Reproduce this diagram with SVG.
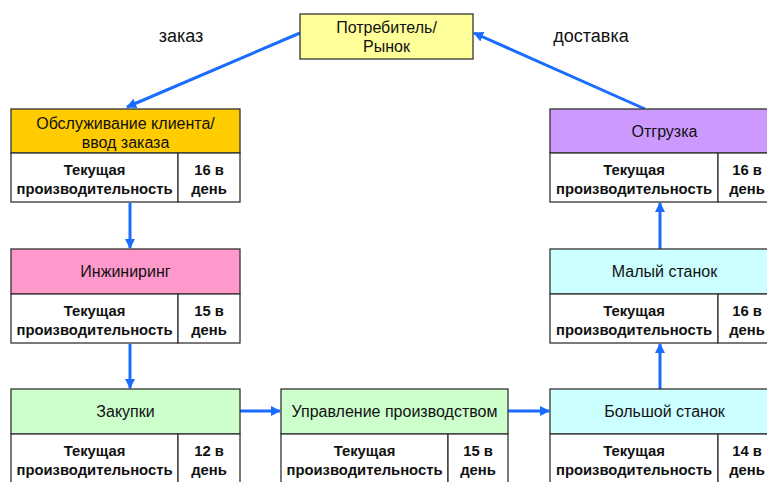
<svg xmlns="http://www.w3.org/2000/svg" width="767" height="482" viewBox="0 0 767 482">
<style>
.box{stroke:#333;stroke-width:1.3}
.cell{fill:#fff;stroke:#333;stroke-width:1.3}
.h{font-family:"Liberation Sans",Arial,sans-serif;font-size:16px;fill:#111;text-anchor:middle}
.t{font-family:"Liberation Sans",Arial,sans-serif;font-size:14.8px;font-weight:bold;fill:#111;text-anchor:middle}
.lbl{font-family:"Liberation Sans",Arial,sans-serif;font-size:18px;fill:#111;text-anchor:middle}
.c{stroke:#1a6cff;stroke-width:3;fill:none;marker-end:url(#ah)}
</style>
<defs>
<marker id="ah" viewBox="0 0 10 10" refX="9" refY="5" markerWidth="3.4" markerHeight="3.4" orient="auto" markerUnits="strokeWidth">
<path d="M0,0 L10,5 L0,10 z" fill="#1a6cff"/>
</marker>
</defs>
<rect width="767" height="482" fill="#fff"/>
<text class="lbl" x="181" y="42">заказ</text>
<text class="lbl" x="591" y="42">доставка</text>
<g id="connectors">
<line class="c" x1="300" y1="33" x2="127" y2="107"/>
<line class="c" x1="645" y1="109" x2="474" y2="33"/>
<line class="c" x1="130" y1="203" x2="130" y2="248"/>
<line class="c" x1="130" y1="344" x2="130" y2="388"/>
<line class="c" x1="240" y1="411" x2="280" y2="411"/>
<line class="c" x1="508" y1="411" x2="549" y2="411"/>
<line class="c" x1="660" y1="389" x2="660" y2="344"/>
<line class="c" x1="660" y1="249" x2="660" y2="203"/>
</g>
<g id="market">
<rect class="box" x="300" y="14" width="173" height="45" fill="#ffff99"/>
<text class="h" x="386.5" y="33">Потребитель/</text>
<text class="h" x="386.5" y="52">Рынок</text>
</g>
<g id="order">
<rect class="box" x="11" y="109" width="229" height="44" fill="#ffcc00"/>
<text class="h" x="125.5" y="129">Обслуживание клиента/</text>
<text class="h" x="125.5" y="148">ввод заказа</text>
<rect class="cell" x="11" y="153" width="167" height="49"/>
<rect class="cell" x="178" y="153" width="62" height="49"/>
<text class="t" x="94.5" y="175">Текущая</text>
<text class="t" x="94.5" y="194">производительность</text>
<text class="t" x="209" y="175">16 в</text>
<text class="t" x="209" y="194">день</text>
</g>
<g id="engineering">
<rect class="box" x="11" y="249" width="229" height="45" fill="#ff99cc"/>
<text class="h" x="125.5" y="277">Инжиниринг</text>
<rect class="cell" x="11" y="294" width="167" height="49"/>
<rect class="cell" x="178" y="294" width="62" height="49"/>
<text class="t" x="94.5" y="316">Текущая</text>
<text class="t" x="94.5" y="335">производительность</text>
<text class="t" x="209" y="316">15 в</text>
<text class="t" x="209" y="335">день</text>
</g>
<g id="purchasing">
<rect class="box" x="11" y="389" width="229" height="45" fill="#ccffcc"/>
<text class="h" x="125.5" y="417">Закупки</text>
<rect class="cell" x="11" y="434" width="167" height="50"/>
<rect class="cell" x="178" y="434" width="62" height="50"/>
<text class="t" x="94.5" y="456">Текущая</text>
<text class="t" x="94.5" y="475">производительность</text>
<text class="t" x="209" y="456">12 в</text>
<text class="t" x="209" y="475">день</text>
</g>
<g id="production">
<rect class="box" x="281" y="389" width="227" height="45" fill="#ccffcc"/>
<text class="h" x="394.5" y="417">Управление производством</text>
<rect class="cell" x="281" y="434" width="167" height="50"/>
<rect class="cell" x="448" y="434" width="60" height="50"/>
<text class="t" x="364.5" y="456">Текущая</text>
<text class="t" x="364.5" y="475">производительность</text>
<text class="t" x="478" y="456">15 в</text>
<text class="t" x="478" y="475">день</text>
</g>
<g id="bigmachine">
<rect class="box" x="550" y="389" width="229" height="45" fill="#ccffff"/>
<text class="h" x="664.5" y="417">Большой станок</text>
<rect class="cell" x="550" y="434" width="168" height="50"/>
<rect class="cell" x="718" y="434" width="62" height="50"/>
<text class="t" x="634" y="456">Текущая</text>
<text class="t" x="634" y="475">производительность</text>
<text class="t" x="747" y="456">14 в</text>
<text class="t" x="747" y="475">день</text>
</g>
<g id="smallmachine">
<rect class="box" x="550" y="249" width="229" height="45" fill="#ccffff"/>
<text class="h" x="664.5" y="277">Малый станок</text>
<rect class="cell" x="550" y="294" width="168" height="49"/>
<rect class="cell" x="718" y="294" width="62" height="49"/>
<text class="t" x="634" y="316">Текущая</text>
<text class="t" x="634" y="335">производительность</text>
<text class="t" x="747" y="316">16 в</text>
<text class="t" x="747" y="335">день</text>
</g>
<g id="shipping">
<rect class="box" x="550" y="109" width="229" height="44" fill="#cc99ff"/>
<text class="h" x="664.5" y="137">Отгрузка</text>
<rect class="cell" x="550" y="153" width="168" height="49"/>
<rect class="cell" x="718" y="153" width="62" height="49"/>
<text class="t" x="634" y="175">Текущая</text>
<text class="t" x="634" y="194">производительность</text>
<text class="t" x="747" y="175">16 в</text>
<text class="t" x="747" y="194">день</text>
</g>
</svg>
